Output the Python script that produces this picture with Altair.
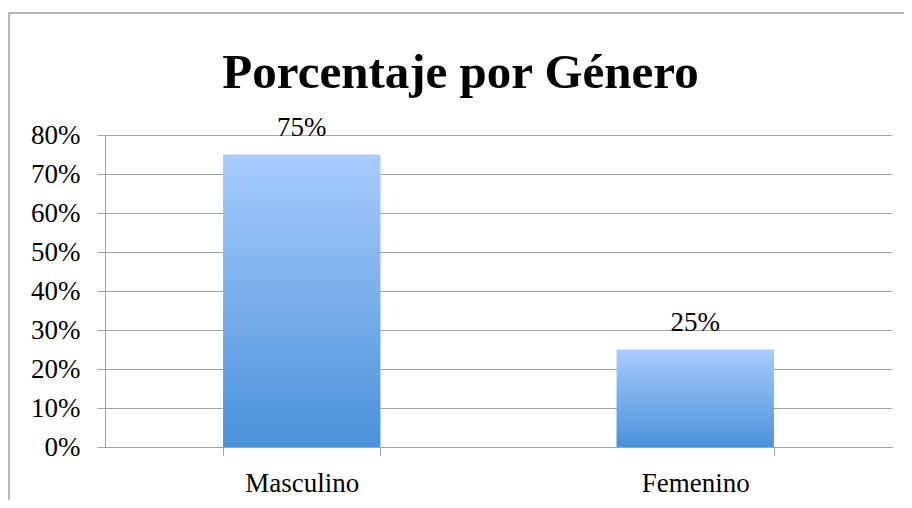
import altair as alt
import pandas as pd

categories = ["Masculino", "Femenino"]
values = [0.75, 0.25]
y_ticks = [0.0, 0.1, 0.2, 0.3, 0.4, 0.5, 0.6, 0.7, 0.8]
title_text = "Porcentaje por Género"

df = pd.DataFrame({"genero": categories, "pct": values})

FONT = "Liberation Serif"
GRAY = "#a3a3a3"

x_enc = alt.X(
    "genero:N",
    sort=categories,
    scale=alt.Scale(paddingInner=0.6, paddingOuter=0.3),
    axis=alt.Axis(
        title=None,
        labelAngle=0,
        tickBand="extent",
        tickSize=8,
        tickColor=GRAY,
        domainColor=GRAY,
        labelFont=FONT,
        labelFontSize=27,
        labelColor="black",
        labelPadding=15,
        grid=False,
    ),
)
y_enc = alt.Y(
    "pct:Q",
    scale=alt.Scale(domain=[0, 0.8], nice=False),
    axis=alt.Axis(
        title=None,
        values=y_ticks,
        format=".0%",
        tickSize=8,
        tickColor=GRAY,
        domainColor=GRAY,
        gridColor=GRAY,
        grid=True,
        labelFont=FONT,
        labelFontSize=27,
        labelColor="black",
        labelPadding=17,
    ),
)

frame = alt.Chart(pd.DataFrame({"k": [0]})).mark_rect(
    fillOpacity=0, stroke="#a0a0a0", strokeWidth=1.5
).encode(
    x=alt.value(-96), x2=alt.value(920), y=alt.value(-122), y2=alt.value(420)
)

bars = alt.Chart(df).mark_bar(
    color={
        "gradient": "linear",
        "x1": 0, "y1": 0, "x2": 0, "y2": 1,
        "stops": [
            {"offset": 0, "color": "#a9ccfd"},
            {"offset": 1, "color": "#4a91d9"},
        ],
    }
).encode(x=x_enc, y=y_enc)

labels = alt.Chart(df).mark_text(
    baseline="alphabetic", dy=-19, font=FONT, fontSize=27, color="black"
).encode(x=x_enc, y=y_enc, text=alt.Text("pct:Q", format=".0%"))

chart = alt.layer(frame, bars, labels).properties(
    width=787,
    height=312,
    autosize="none",
    padding={"left": 97, "top": 127, "right": 12, "bottom": 53},
    title=alt.TitleParams(
        title_text,
        font=FONT,
        fontSize=49,
        fontWeight="bold",
        color="black",
        anchor="middle",
        frame="group",
        baseline="alphabetic",
        offset=-125,
        dx=-38,
    ),
).configure_view(strokeWidth=0)

chart.save("out.html", embed_options={"renderer": "svg", "actions": False})
